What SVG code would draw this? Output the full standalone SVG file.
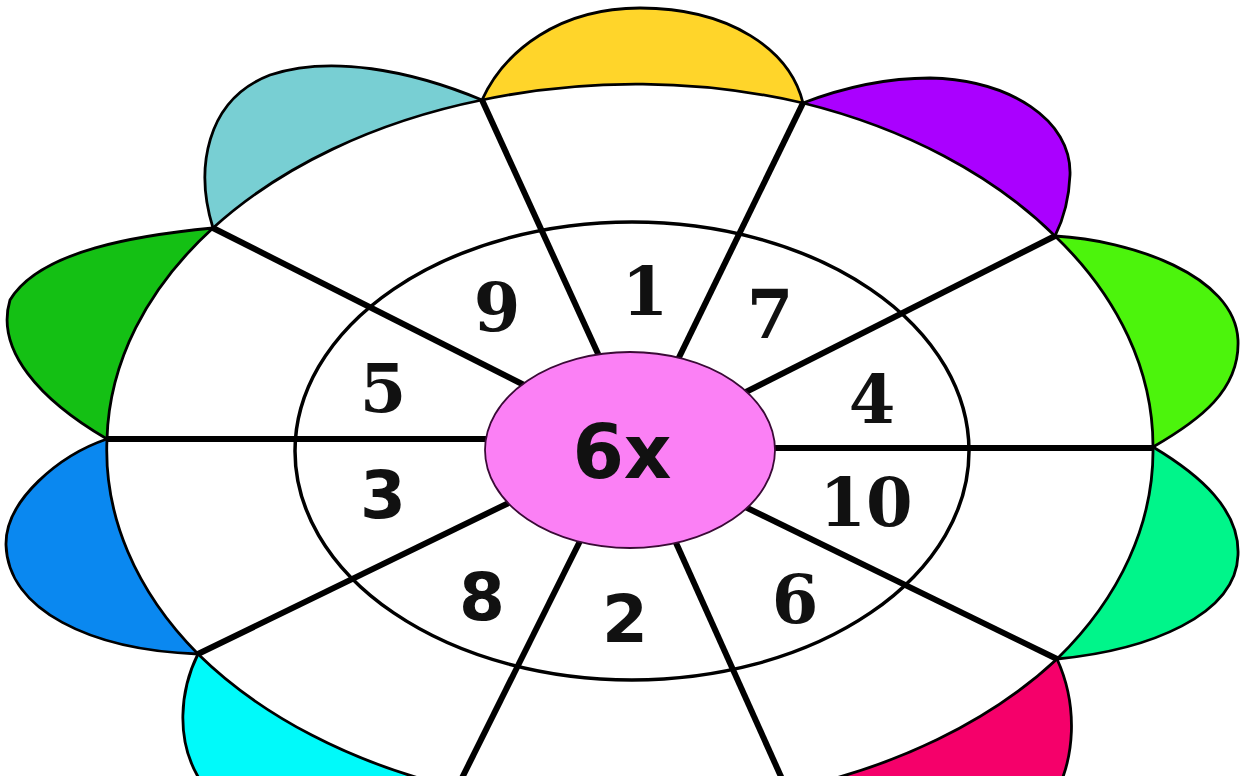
<svg xmlns="http://www.w3.org/2000/svg" width="1243" height="776" viewBox="0 0 1243 776">
  <style>
    .petal { stroke: #000; stroke-width: 2.8; stroke-linejoin: round; }
    .body { fill: #fff; stroke: #000; stroke-width: 2.8; }
    .ring { fill: none; stroke: #000; stroke-width: 3.5; }
    .spoke { stroke: #000; stroke-width: 6; stroke-linecap: butt; }
    .hub { fill: #FB80F5; stroke: #3a0a36; stroke-width: 1.8; }
    .num { font-family: "DejaVu Serif", "Liberation Serif", serif; font-weight: bold; font-size: 67px; fill: #111; text-anchor: middle; }
    .nums { font-family: "DejaVu Sans", "Liberation Sans", sans-serif; font-weight: bold; font-size: 66px; fill: #111; text-anchor: middle; }
    .hubtext { font-family: "DejaVu Sans", "Liberation Sans", sans-serif; font-weight: bold; font-size: 74px; fill: #111; text-anchor: middle; }
  </style>
  <rect width="1243" height="776" fill="#fff"/>

  <g id="petals">
    <path id="petal-yellow" class="petal" fill="#FFD52A" d="M482,100 C505,50 560,8 640,8 C730,8 790,50 803,103 Z"/>
    <path id="petal-purple" class="petal" fill="#AA00FF" d="M803,103 C850,85 890,78 930,78 C1010,80 1072,120 1070,175 C1069,200 1062,222 1055,236 Z"/>
    <path id="petal-lime" class="petal" fill="#4CF40C" d="M1055,236 C1130,240 1235,275 1238,340 C1240,390 1200,420 1153,447 Z"/>
    <path id="petal-mint" class="petal" fill="#00F58A" d="M1153,447 C1200,475 1240,510 1238,555 C1236,615 1150,650 1057,659 Z"/>
    <path id="petal-crimson" class="petal" fill="#F5006A" d="M1057,659 C1078,705 1076,760 1052,800 L787,790 Z"/>
    <path id="petal-cyan" class="petal" fill="#00FAFA" d="M198,654 C180,690 175,740 200,780 L456,788 Z"/>
    <path id="petal-blue" class="petal" fill="#0A88F0" d="M107,439 C60,455 5,500 6,545 C8,610 90,650 198,654 Z"/>
    <path id="petal-green" class="petal" fill="#14C014" d="M213,228 C140,235 40,250 10,300 C-5,350 40,400 107,439 Z"/>
    <path id="petal-teal" class="petal" fill="#78CFD3" d="M213,228 C195,170 205,100 270,75 C330,55 410,70 482,100 Z"/>
  </g>

  <g id="body">
    <path class="body" d="M482,100 A523,361 0 0 1 803,103 A523,361 0 0 1 1055,236 A523,361 0 0 1 1153,447 A523,361 0 0 1 1057,659 A523,361 0 0 1 787,790 A523,361 0 0 1 456,788 A523,361 0 0 1 198,654 A523,361 0 0 1 107,439 A523,361 0 0 1 213,228 A523,361 0 0 1 482,100 Z"/>
  </g>

  <g id="ring">
    <ellipse class="ring" cx="632" cy="451" rx="337" ry="229"/>
  </g>

  <g id="connectors">
    <line class="spoke" x1="482" y1="100" x2="610" y2="380"/>
    <line class="spoke" x1="803" y1="103" x2="668" y2="380"/>
    <line class="spoke" x1="1055" y1="236" x2="730" y2="400"/>
    <line class="spoke" x1="1153" y1="448" x2="750" y2="448"/>
    <line class="spoke" x1="1057" y1="659" x2="735" y2="502"/>
    <line class="spoke" x1="787" y1="790" x2="668" y2="525"/>
    <line class="spoke" x1="456" y1="790" x2="588" y2="525"/>
    <line class="spoke" x1="198" y1="654" x2="525" y2="495"/>
    <line class="spoke" x1="107" y1="439" x2="510" y2="439"/>
    <line class="spoke" x1="213" y1="228" x2="530" y2="388"/>
  </g>

  <g id="hub">
    <ellipse class="hub" cx="630" cy="450" rx="145" ry="98"/>
    <text class="hubtext" x="622" y="478">6x</text>
  </g>

  <g id="numbers">
    <text class="num" x="497" y="331">9</text>
    <text class="num" x="645" y="315">1</text>
    <text class="num" x="770" y="338">7</text>
    <text class="num" x="872" y="423">4</text>
    <text class="num" x="866" y="526">10</text>
    <text class="num" x="795" y="623">6</text>
    <text class="nums" x="625" y="642">2</text>
    <text class="nums" x="482" y="620">8</text>
    <text class="nums" x="383" y="518">3</text>
    <text class="num" x="383" y="412">5</text>
  </g>
</svg>
